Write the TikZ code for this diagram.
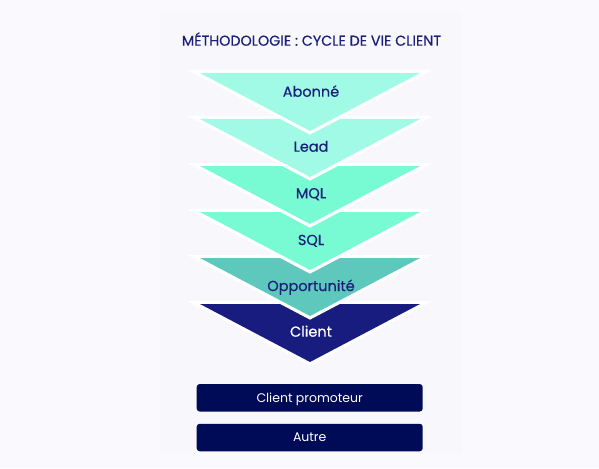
\documentclass[tikz,border=0pt]{standalone}
\usepackage{fontspec}
\setmainfont{Poppins}
\newfontfamily\medfont{Poppins}[FakeBold=0.5]
\definecolor{bgout}{HTML}{F9F9FE}
\definecolor{bgin}{HTML}{F7F7FC}
\definecolor{mintA}{HTML}{A0FAE5}
\definecolor{mintB}{HTML}{78FAD3}
\definecolor{tealC}{HTML}{5EC8BC}
\definecolor{indigoD}{HTML}{181C7E}
\definecolor{navy}{HTML}{000B57}
\definecolor{txt}{HTML}{1B1F7A}
\tikzset{
  halo/.style={draw=white, fill=white, line width=6.5pt, miter limit=20},
  lab/.style={text=txt, font=\medfont\fontsize{14.5}{16}\selectfont, inner sep=0pt, anchor=base},
  btn/.style={fill=navy, rounded corners=3pt, minimum width=226pt, minimum height=27.5pt, inner sep=0pt, text=white, font=\fontsize{12.5}{14}\selectfont, text height=8.8pt, text depth=0pt},
}
\begin{document}
\begin{tikzpicture}[x=1pt,y=-1pt]
\useasboundingbox (0,0) rectangle (599,468);
\fill[bgout] (0,0) rectangle (599,468);
\fill[bgin] (160,12) rectangle (462,453);
% triangles, drawn bottom first so upper ones overlap
\foreach \t/\c in {304/indigoD,258/tealC,212/mintB,166/mintB,119/mintA,73/mintA}{
  \filldraw[halo] (200,\t) -- (420,\t) -- (310,\t+58) -- cycle;
  \fill[\c] (200,\t) -- (420,\t) -- (310,\t+58) -- cycle;
}
\node[lab, font=\medfont\fontsize{14.3}{16}\selectfont] (title) at (311.5,45.7) {MÉTHODOLOGIE : CYCLE DE VIE CLIENT};
\node[lab] (abonne) at (311,96.7) {Abonné};
\node[lab] (lead) at (311,151.7) {Lead};
\node[lab] (mql) at (311,198.3) {MQL};
\node[lab] (sql) at (311,245) {SQL};
\node[lab] (opp) at (311,291) {Opportunité};
\node[lab, text=white] (client) at (311,336.7) {Client};
\node[btn] (promo) at (309.7,397.8) {Client promoteur};
\node[btn] (autre) at (309.7,437.5) {Autre};
\end{tikzpicture}
\end{document}
